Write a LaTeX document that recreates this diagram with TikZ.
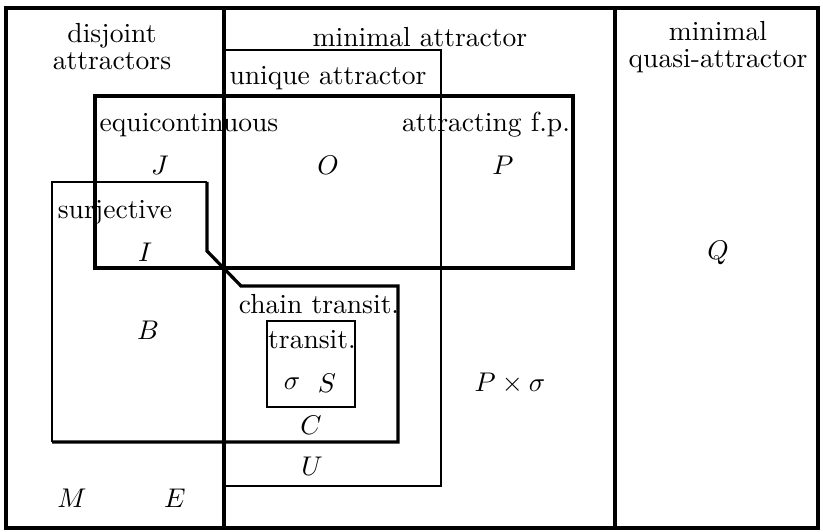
\documentclass[tikz,border=0pt]{standalone}
\begin{document}
\begin{tikzpicture}[x=0.37pt,y=-0.37pt,
  thickln/.style={line width=1.2pt},
  thinln/.style={line width=0.9pt},
  lbl/.style={inner sep=0pt,anchor=center,font=\fontsize{10.2}{12}\selectfont,align=center}]
\useasboundingbox (0,0) rectangle (823,532);
% outer frame and dividers
\draw[thickln] (6,8) rectangle (818,528);
\draw[thickln] (224,8) -- (224,528);
\draw[thickln] (615,8) -- (615,528);
% unique attractor box
\draw[thinln] (224,50) -- (441,50) -- (441,486) -- (224,486);
% equicontinuous box
\draw[thickln] (95,96) rectangle (573,268);
% surjective polygon
\draw[thinln] (207,182) -- (52,182) -- (52,442);
\draw[thickln,line join=miter] (207,182) -- (207,251) -- (241,286) -- (398,286) -- (398,442) -- (52,442);
% transit box
\draw[thinln] (267,321) rectangle (355,407);
% labels
\node[lbl] (disj) at (112,47) {disjoint\\[-2pt]attractors};
\node[lbl] (minatt) at (420,37) {minimal attractor};
\node[lbl] (minq) at (718,47) {minimal\\[-2pt]quasi-attractor};
\node[lbl] (uniq) at (328,78) {unique attractor};
\node[lbl] (equi) at (189,125) {equicontinuous};
\node[lbl] (afp) at (486,125) {attracting f.p.};
\node[lbl] (J) at (160,165) {$J$};
\node[lbl] (O) at (328,165) {$O$};
\node[lbl] (P) at (503,165) {$P$};
\node[lbl] (surj) at (115,212) {surjective};
\node[lbl] (I) at (145,252) {$I$};
\node[lbl] (Q) at (718,253) {$Q$};
\node[lbl] (chain) at (319,304) {chain transit.};
\node[lbl] (B) at (148,330) {$B$};
\node[lbl] (trans) at (312,340) {transit.};
\node[lbl] (sig) at (292,384) {$\sigma$};
\node[lbl] (S) at (327,383) {$S$};
\node[lbl] (Psig) at (510,383) {$P\times\sigma$};
\node[lbl] (C) at (311,425) {$C$};
\node[lbl] (U) at (312,466) {$U$};
\node[lbl] (M) at (72,498) {$M$};
\node[lbl] (E) at (175,498) {$E$};
\end{tikzpicture}
\end{document}
